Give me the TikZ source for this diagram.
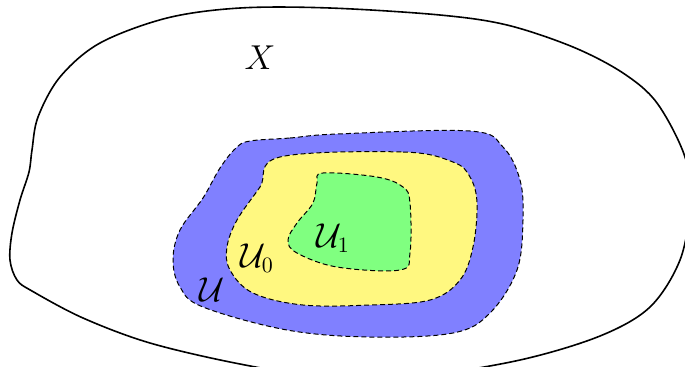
\documentclass[tikz,border=0pt]{standalone}
\begin{document}
\begin{tikzpicture}[x=0.5pt,y=-0.5pt,
  region/.style={draw=black,line width=0.5pt,dash pattern=on 2.5pt off 1.5pt},
  lbl/.style={font=\fontsize{16}{19}\selectfont}]
\useasboundingbox (0,0) rectangle (685,366);
\clip (0,0) rectangle (685,366);
% outer set X
\draw[line width=0.8pt] plot[smooth cycle,tension=0.55] coordinates {
 (240,8) (167,18) (100,43) (60,77) (38,117) (32,150) (29,172) (20,200) (12,233)
 (10,260) (17,280) (32,291) (83,318) (150,343) (240,364) (330,378) (420,376)
 (520,360) (600,336) (650,307) (680,260) (690,205) (685,157) (657,103) (623,73)
 (573,47) (507,25) (440,15) (330,8)};
% U
\filldraw[region,fill=blue!50] plot[smooth cycle,tension=0.6] coordinates {
 (250,141) (290,138) (337,134) (470,131) (503,147) (520,180) (523,220) (517,270) (490,313)
 (453,333) (370,337) (287,330) (203,307) (180,287) (173,260) (180,230) (203,198) (220,168) (236,148)};
% U0
\filldraw[region,fill=yellow!50] plot[smooth cycle,tension=0.6] coordinates {
 (280,157) (403,152) (453,162) (470,177) (477,203) (473,247) (460,280) (430,300)
 (370,305) (303,305) (253,293) (230,270) (227,247) (237,220) (260,187)};
% U1
\filldraw[region,fill=green!50] plot[smooth cycle,tension=0.6] coordinates {
 (323,173) (377,177) (403,187) (410,203) (410,253) (400,270) (337,267) (297,253)
 (288,240) (297,223) (313,203) (317,183)};
\node[lbl] (X) at (260,58) {$X$};
\node[lbl] (U) at (212,290) {$\mathcal{U}$};
\node[lbl] (U0) at (257,258) {$\mathcal{U}_0$};
\node[lbl] (U1) at (333,238) {$\mathcal{U}_1$};
\end{tikzpicture}
\end{document}
